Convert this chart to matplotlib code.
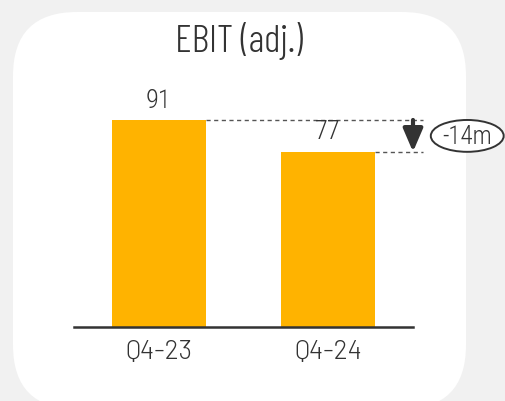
import matplotlib.pyplot as plt
from matplotlib.patches import FancyBboxPatch, Ellipse

periods = ["Q4-23", "Q4-24"]
ebit = [91, 77]
title = "EBIT (adj.)"
delta_label = "-14m"

plt.rcParams["font.family"] = ["Barlow", "DejaVu Sans"]

bar_color = "#FFB300"
dark = "#333333"
num_font = ["Roboto Condensed", "DejaVu Sans"]

fig = plt.figure(figsize=(5.06, 4.02), dpi=100)
fig.patch.set_facecolor("#f1f1f1")

# background card, drawn in pixel units
bg = fig.add_axes([0, 0, 1, 1], zorder=0)
bg.set_xlim(0, 506)
bg.set_ylim(402, 0)
bg.axis("off")
bg.add_patch(FancyBboxPatch((13, 13), 453, 397,
                            boxstyle="round,pad=0,rounding_size=64",
                            facecolor="white", edgecolor="none"))
bg.text(238.5, 41, title, ha="center", va="center", fontsize=28,
        color=dark, family=["Barlow Condensed", "DejaVu Sans"], weight=300)

# chart axes: baseline at y=328px, 2.275 px per unit
W, H = 506, 402
ax = fig.add_axes([74 / W, (H - 328) / H, 339 / W, 227.5 / H], zorder=1)
ax.patch.set_alpha(0)
x = list(range(len(periods)))
ax.bar(x, ebit, width=0.553, color=bar_color, zorder=2)
ax.set_xlim(-0.5, 1.5)
ax.set_ylim(0, 100)

for xi, v in zip(x, ebit):
    ax.annotate(str(v), (xi, v), xytext=(0, 6), textcoords="offset points",
                ha="center", va="bottom", fontsize=19, color=dark,
                family=num_font, weight=300)

for s in ["top", "right", "left"]:
    ax.spines[s].set_visible(False)
ax.spines["bottom"].set_color(dark)
ax.spines["bottom"].set_linewidth(1.8)
ax.set_yticks([])
ax.set_xticks(x)
ax.set_xticklabels(periods, fontsize=19, color=dark, weight=300)
ax.tick_params(axis="x", length=0, pad=9)

# dashed reference lines from bar tops
x_end = 1.56
for xi, v in zip(x, ebit):
    ax.plot([xi + 0.553 / 2, x_end], [v, v], ls=(0, (3, 2.5)), lw=1,
            color="#555555", clip_on=False)

# down arrow showing the change
ax.annotate("", xy=(1.5, ebit[1]), xytext=(1.5, ebit[0]),
            arrowprops=dict(arrowstyle="-|>,head_width=0.6,head_length=1.4",
                            color=dark, lw=3, shrinkA=0, shrinkB=0),
            annotation_clip=False)

mid = (ebit[0] + ebit[1]) / 2
ax.add_patch(Ellipse((1.82, mid), 0.43, 14, facecolor="white",
                     edgecolor=dark, lw=1.4, clip_on=False, zorder=3))
ax.text(1.82, mid, delta_label, ha="center", va="center", fontsize=18,
        color=dark, zorder=4, clip_on=False, family=num_font, weight=300)

fig.savefig("out.png", dpi=100)
